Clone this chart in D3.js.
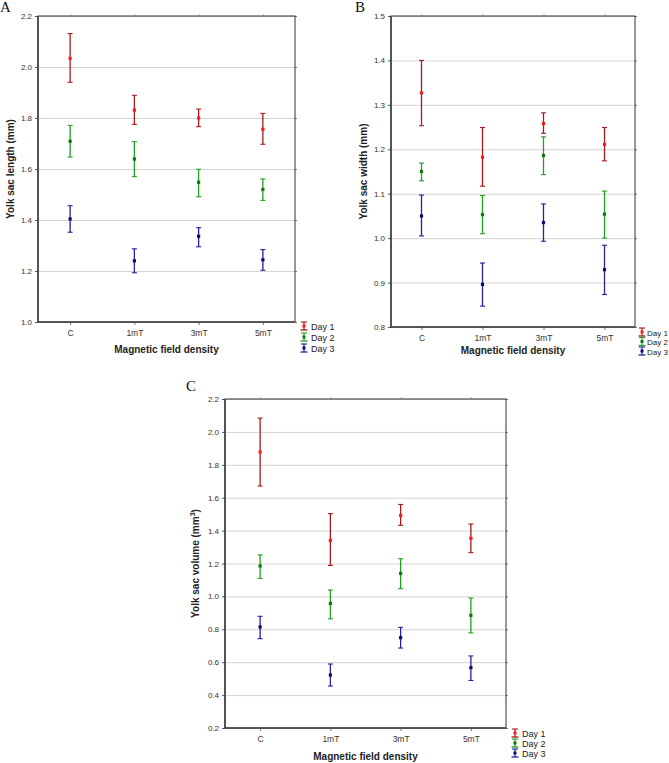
<!DOCTYPE html>
<html>
<head>
<meta charset="utf-8">
<script src="https://cdn.jsdelivr.net/npm/d3@7"></script>
<style>
  body { margin: 0; background: #fff; }
  svg { display: block; font-family: 'Liberation Sans', Arial, sans-serif; }
</style>
</head>
<body>
<div id="chart"></div>
<script>
const categories = ['C', '1mT', '3mT', '5mT'];
const days = ['Day 1', 'Day 2', 'Day 3'];

// panel A - yolk sac length (mm)
const lengthTicks = [1.0, 1.2, 1.4, 1.6, 1.8, 2.0, 2.2];
const lengthMean = [[2.034, 1.831, 1.800, 1.756], [1.709, 1.639, 1.548, 1.520], [1.404, 1.240, 1.336, 1.244]];
const lengthLow = [[1.940, 1.775, 1.766, 1.697], [1.647, 1.570, 1.491, 1.477], [1.352, 1.193, 1.295, 1.203]];
const lengthHigh = [[2.131, 1.889, 1.835, 1.818], [1.771, 1.707, 1.599, 1.561], [1.456, 1.287, 1.370, 1.284]];

// panel B - yolk sac width (mm)
const widthTicks = [0.8, 0.9, 1.0, 1.1, 1.2, 1.3, 1.4, 1.5];
const widthMean = [[1.327, 1.182, 1.258, 1.211], [1.150, 1.053, 1.186, 1.054], [1.050, 0.896, 1.035, 0.929]];
const widthLow = [[1.253, 1.117, 1.236, 1.174], [1.129, 1.010, 1.143, 1.000], [1.005, 0.847, 0.993, 0.873]];
const widthHigh = [[1.400, 1.249, 1.282, 1.249], [1.169, 1.096, 1.228, 1.106], [1.097, 0.944, 1.077, 0.984]];

// panel C - yolk sac volume (mm3)
const volumeTicks = [0.2, 0.4, 0.6, 0.8, 1.0, 1.2, 1.4, 1.6, 1.8, 2.0, 2.2];
const volumeMean = [[1.878, 1.340, 1.492, 1.353], [1.185, 0.957, 1.140, 0.885], [0.814, 0.522, 0.749, 0.567]];
const volumeLow = [[1.671, 1.188, 1.432, 1.266], [1.109, 0.864, 1.047, 0.778], [0.743, 0.455, 0.686, 0.489]];
const volumeHigh = [[2.084, 1.503, 1.559, 1.440], [1.252, 1.039, 1.229, 0.990], [0.879, 0.589, 0.812, 0.638]];

const barColor = ['#a8191c', '#21a021', '#22229e'];
const dotColor = ['#ff1a1a', '#0a780a', '#0c0c70'];

const svg = d3.select('#chart')
  .append('svg')
  .attr('width', 669)
  .attr('height', 763);

function panel(opt) {
  const g = svg.append('g');
  const x = d3.scalePoint().domain(categories).range([opt.left, opt.right]).padding(0.5);
  const y = d3.scaleLinear().domain(d3.extent(opt.ticks)).range([opt.bottom, opt.top]);
  const w = opt.right - opt.left;

  // grid
  g.append('g')
    .attr('transform', `translate(${opt.left},0)`)
    .call(d3.axisLeft(y).tickValues(opt.ticks).tickSize(-w).tickFormat(''))
    .call((g) => g.select('.domain').remove())
    .call((g) => g.selectAll('.tick line').attr('stroke', '#d4d4d4').attr('stroke-width', 1));

  // left axis
  g.append('g')
    .attr('transform', `translate(${opt.left},0)`)
    .call(d3.axisLeft(y).tickValues(opt.ticks).tickSize(3).tickPadding(3).tickFormat(d3.format('.1f')))
    .call((g) => g.select('.domain').remove())
    .call((g) => g.selectAll('.tick line').attr('stroke', '#555'))
    .call((g) => g.selectAll('.tick text').attr('fill', '#333').attr('font-size', 8).attr('font-family', 'Liberation Sans, Arial, sans-serif'));

  // right ticks
  g.append('g')
    .attr('transform', `translate(${opt.right},0)`)
    .call(d3.axisRight(y).tickValues(opt.ticks).tickSize(2).tickFormat(''))
    .call((g) => g.select('.domain').remove())
    .call((g) => g.selectAll('.tick line').attr('stroke', '#777'));

  // bottom axis
  g.append('g')
    .attr('transform', `translate(0,${opt.bottom})`)
    .call(d3.axisBottom(x).tickSize(3).tickPadding(5))
    .call((g) => g.select('.domain').remove())
    .call((g) => g.selectAll('.tick line').attr('stroke', '#777'))
    .call((g) => g.selectAll('.tick text').attr('fill', '#333').attr('font-size', 8.5).attr('font-family', 'Liberation Sans, Arial, sans-serif'));

  // top ticks
  g.append('g')
    .attr('transform', `translate(0,${opt.top})`)
    .call(d3.axisTop(x).tickSize(2).tickFormat(''))
    .call((g) => g.select('.domain').remove())
    .call((g) => g.selectAll('.tick line').attr('stroke', '#bbb'));

  // frame
  g.append('rect')
    .attr('x', opt.left).attr('y', opt.top)
    .attr('width', w).attr('height', opt.bottom - opt.top)
    .attr('fill', 'none').attr('stroke', '#333').attr('stroke-width', 1);
  g.append('path')
    .attr('d', `M${opt.left},${opt.top}V${opt.bottom}H${opt.right}`)
    .attr('fill', 'none').attr('stroke', '#444').attr('stroke-width', 1.6);

  // error bars
  days.forEach((day, k) => {
    const rows = categories.map((c, i) => ({
      c: c, m: opt.mean[k][i], lo: opt.low[k][i], hi: opt.high[k][i]
    }));
    const eg = g.append('g');
    eg.selectAll('line.bar').data(rows).enter().append('line')
      .attr('x1', (d) => x(d.c)).attr('x2', (d) => x(d.c))
      .attr('y1', (d) => y(d.hi)).attr('y2', (d) => y(d.lo))
      .attr('stroke', barColor[k]).attr('stroke-width', 1.3);
    ['hi', 'lo'].forEach((key) => {
      eg.selectAll('line.cap-' + key).data(rows).enter().append('line')
        .attr('x1', (d) => x(d.c) - 2.5).attr('x2', (d) => x(d.c) + 2.5)
        .attr('y1', (d) => y(d[key])).attr('y2', (d) => y(d[key]))
        .attr('stroke', barColor[k]).attr('stroke-width', 1.1);
    });
    eg.selectAll('rect.dot').data(rows).enter().append('rect')
      .attr('x', (d) => x(d.c) - 1.6).attr('y', (d) => y(d.m) - 1.6)
      .attr('width', 3.2).attr('height', 3.2)
      .attr('fill', dotColor[k]);
  });

  // axis titles
  g.append('text')
    .attr('x', (opt.left + opt.right) / 2).attr('y', opt.xTitleY)
    .attr('text-anchor', 'middle').attr('font-size', 10).attr('font-weight', 'bold').attr('fill', '#222')
    .text('Magnetic field density');

  const yt = g.append('text')
    .attr('transform', `translate(${opt.yTitleX},${(opt.top + opt.bottom) / 2}) rotate(-90)`)
    .attr('text-anchor', 'middle').attr('font-size', 10).attr('font-weight', 'bold').attr('fill', '#222');
  yt.append('tspan').text(opt.yTitle);
  if (opt.sup) {
    yt.append('tspan').attr('font-size', 7).attr('dy', -4).text(opt.sup);
    yt.append('tspan').attr('dy', 4).text(')');
  }

  // panel letter
  g.append('text')
    .attr('x', opt.letterX).attr('y', opt.letterY)
    .attr('font-family', 'Liberation Serif, Times New Roman, serif').attr('font-size', 15)
    .attr('fill', '#111')
    .text(opt.letter);

  // legend
  days.forEach((day, k) => {
    const ly = opt.legendY + k * opt.legendStep;
    const lx = opt.legendX;
    const lg = g.append('g');
    lg.append('line').attr('x1', lx).attr('x2', lx).attr('y1', ly - 4).attr('y2', ly + 4)
      .attr('stroke', barColor[k]).attr('stroke-width', 1.2);
    lg.append('line').attr('x1', lx - 3).attr('x2', lx + 3).attr('y1', ly - 4).attr('y2', ly - 4)
      .attr('stroke', barColor[k]).attr('stroke-width', 1.1);
    lg.append('line').attr('x1', lx - 3.5).attr('x2', lx + 3.5).attr('y1', ly + 4).attr('y2', ly + 4)
      .attr('stroke', barColor[k]).attr('stroke-width', 1.3);
    lg.append('rect').attr('x', lx - 1.5).attr('y', ly - 1.5).attr('width', 3).attr('height', 3)
      .attr('fill', dotColor[k]);
    lg.append('text').attr('x', lx + opt.legendGap).attr('y', ly + 3.5)
      .attr('font-size', opt.legendFont).attr('fill', '#222').text(day);
  });
}

panel({
  left: 38, right: 295, top: 16, bottom: 322,
  ticks: lengthTicks, mean: lengthMean, low: lengthLow, high: lengthHigh,
  yTitle: 'Yolk sac length (mm)', yTitleX: 14, xTitleY: 353,
  letter: 'A', letterX: 0, letterY: 12,
  legendX: 304, legendY: 326, legendStep: 11, legendGap: 7, legendFont: 9
});

panel({
  left: 391, right: 635, top: 16, bottom: 327,
  ticks: widthTicks, mean: widthMean, low: widthLow, high: widthHigh,
  yTitle: 'Yolk sac width (mm)', yTitleX: 367, xTitleY: 354,
  letter: 'B', letterX: 355, letterY: 12,
  legendX: 642, legendY: 332, legendStep: 9.5, legendGap: 5, legendFont: 8
});

panel({
  left: 225, right: 506, top: 399, bottom: 728,
  ticks: volumeTicks, mean: volumeMean, low: volumeLow, high: volumeHigh,
  yTitle: 'Yolk sac volume (mm', sup: '3', yTitleX: 199, xTitleY: 760,
  letter: 'C', letterX: 186, letterY: 391,
  legendX: 515, legendY: 733, legendStep: 10, legendGap: 7, legendFont: 9
});
</script>
</body>
</html>
